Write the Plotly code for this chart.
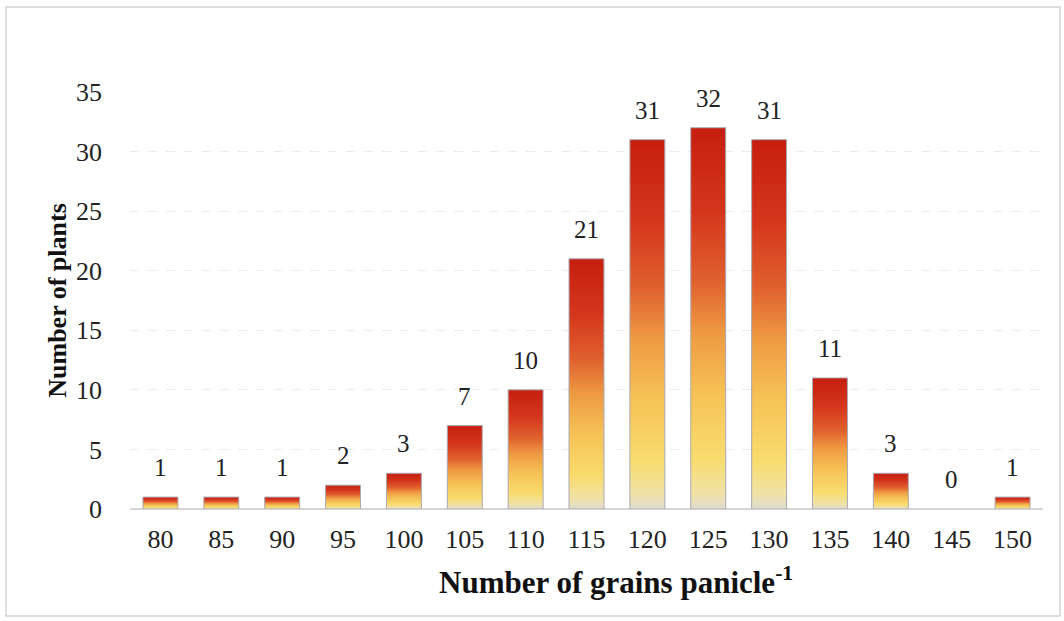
import plotly.graph_objects as go

# Grain-count classes and number of plants in each
grain_classes = [80, 85, 90, 95, 100, 105, 110, 115, 120, 125, 130, 135, 140, 145, 150]
plant_counts = [1, 1, 1, 2, 3, 7, 10, 21, 31, 32, 31, 11, 3, 0, 1]
y_ticks = [0, 5, 10, 15, 20, 25, 30, 35]

BAR_WIDTH = 2.87  # in x-axis units (class spacing is 5)
SERIF = "Liberation Serif, Times New Roman, serif"

# bottom -> top of each bar
bar_scale = [
    [0.00, "#e0dcd0"],
    [0.04, "#efe2a8"],
    [0.13, "#f9dc6e"],
    [0.30, "#f6c256"],
    [0.46, "#ee9a42"],
    [0.60, "#e0602e"],
    [0.78, "#d4361c"],
    [1.00, "#c61e0f"],
]

fig = go.Figure()

for xc, v in zip(grain_classes, plant_counts):
    if v <= 0:
        continue
    x0, x1 = xc - BAR_WIDTH / 2, xc + BAR_WIDTH / 2
    fig.add_trace(go.Scatter(
        x=[x0, x0, x1, x1, x0],
        y=[0, v, v, 0, 0],
        mode="lines",
        fill="toself",
        fillgradient=dict(type="vertical", colorscale=bar_scale, start=0, stop=v),
        line=dict(color="#a9a9b4", width=1),
        hoverinfo="skip",
        showlegend=False,
    ))

# value labels above the bars
for xc, v in zip(grain_classes, plant_counts):
    fig.add_annotation(
        x=xc, y=v, xref="x", yref="y",
        text=str(v), showarrow=False,
        yanchor="bottom", yshift=14,
        font=dict(family=SERIF, size=25, color="#222222"),
    )

L, R, T, B = 130, 21, 92, 112
W, H = 1064, 621
pw, ph = W - L - R, H - T - B

def px_to_paper_x(px):
    return (px - L) / pw

def px_to_paper_y(py):
    return (H - B - py) / ph

# chart frame
fig.add_shape(
    type="rect", xref="paper", yref="paper",
    x0=px_to_paper_x(6), x1=px_to_paper_x(1060),
    y0=px_to_paper_y(616), y1=px_to_paper_y(7),
    line=dict(color="#d4d4d4", width=1.5),
    fillcolor="rgba(0,0,0,0)", layer="below",
)

# x-axis title
fig.add_annotation(
    xref="paper", yref="paper",
    x=px_to_paper_x(616), y=px_to_paper_y(580),
    xanchor="center", yanchor="middle",
    text="<b>Number of grains panicle<sup>-1</sup></b>",
    showarrow=False,
    font=dict(family=SERIF, size=31, color="#111111"),
)

fig.update_layout(
    width=W, height=H,
    margin=dict(l=L, r=R, t=T, b=B),
    paper_bgcolor="white",
    plot_bgcolor="white",
    font=dict(family=SERIF, color="#222222"),
    xaxis=dict(
        range=[77.5, 152.5],
        tickvals=grain_classes,
        ticktext=[str(c) for c in grain_classes],
        tickfont=dict(family=SERIF, size=26, color="#222222"),
        showgrid=False,
        zeroline=False,
        showline=False,
        ticks="",
        ticklabelstandoff=12,
    ),
    yaxis=dict(
        range=[0, 35],
        tickvals=y_ticks,
        tickfont=dict(family=SERIF, size=26, color="#222222"),
        showgrid=True,
        gridcolor="#ececec",
        griddash="dash",
        gridwidth=1,
        zeroline=True,
        zerolinecolor="#d6d6d6",
        zerolinewidth=1.5,
        showline=False,
        ticks="",
        ticklabelstandoff=27,
        title=dict(
            text="<b>Number of plants</b>",
            font=dict(family=SERIF, size=26, color="#111111"),
            standoff=1,
        ),
    ),
)

fig.write_html("out.html")
